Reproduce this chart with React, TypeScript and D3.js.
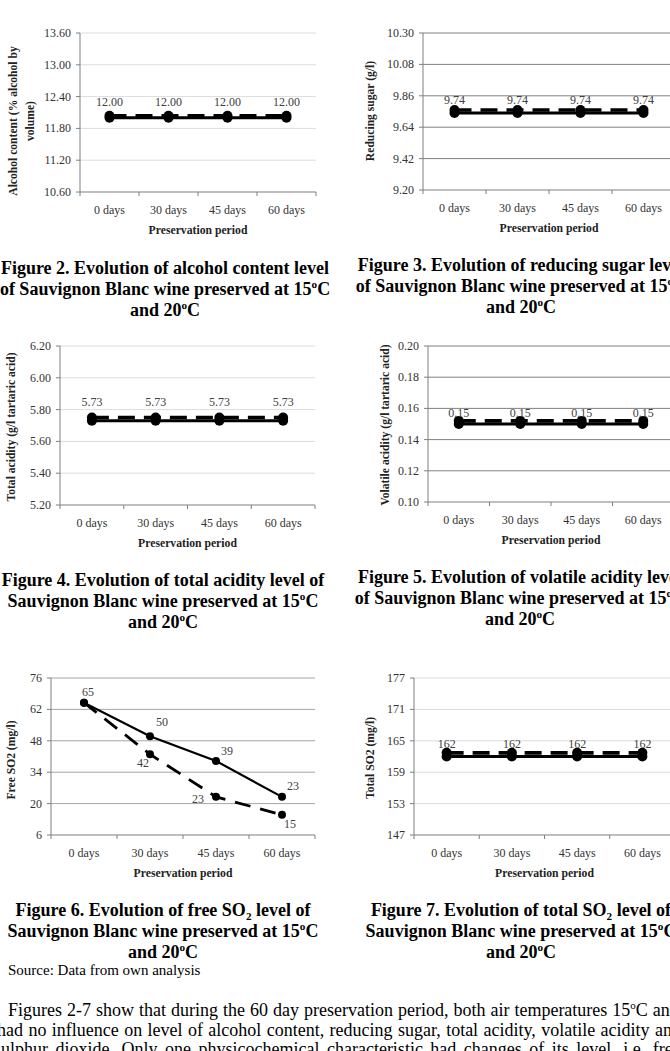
import React from 'react';
import * as d3 from 'd3';

const periods = ['0 days', '30 days', '45 days', '60 days'];

// Figure 2 – alcohol content (% vol)
const alcohol15 = [12.0, 12.0, 12.0, 12.0];
const alcohol20 = [12.04, 12.04, 12.04, 12.04];
const alcoholTicks = [10.6, 11.2, 11.8, 12.4, 13.0, 13.6];

// Figure 3 – reducing sugar (g/l)
const sugar15 = [9.74, 9.74, 9.74, 9.74];
const sugar20 = [9.76, 9.76, 9.76, 9.76];
const sugarTicks = [9.2, 9.42, 9.64, 9.86, 10.08, 10.3];

// Figure 4 – total acidity (g/l tartaric acid)
const acidity15 = [5.73, 5.73, 5.73, 5.73];
const acidity20 = [5.75, 5.75, 5.75, 5.75];
const acidityTicks = [5.2, 5.4, 5.6, 5.8, 6.0, 6.2];

// Figure 5 – volatile acidity (g/l tartaric acid)
const volatile15 = [0.15, 0.15, 0.15, 0.15];
const volatile20 = [0.152, 0.152, 0.152, 0.152];
const volatileTicks = [0.1, 0.12, 0.14, 0.16, 0.18, 0.2];

// Figure 6 – free SO2 (mg/l)
const freeSO2_15 = [65, 50, 39, 23];
const freeSO2_20 = [65, 42, 23, 15];
const freeSO2Ticks = [6, 20, 34, 48, 62, 76];

// Figure 7 – total SO2 (mg/l)
const totalSO2_15 = [162, 162, 162, 162];
const totalSO2_20 = [162.7, 162.7, 162.7, 162.7];
const totalSO2Ticks = [147, 153, 159, 165, 171, 177];

const SERIF = "'Liberation Serif', 'Times New Roman', serif";

type Panel = {
  left: number; top: number; width: number; height: number;
  ticks: number[]; fmt: string;
  solid: number[]; dashed: number[];
  grid: string;
  yTitle: string[]; yTitleX: number[]; yTitleCy: number;
  title: string[]; titleX: number; titleY: number;
  labelDy: number; r: number; lw: number; dash: string;
  solidOffsets?: [number, number][];
  dashedOffsets?: ([number, number] | null)[];
};

const panels: Panel[] = [
  {
    left: 80, top: 33, width: 236, height: 159,
    ticks: alcoholTicks, fmt: '.2f', solid: alcohol15, dashed: alcohol20,
    grid: '#dcdcdc',
    yTitle: ['Alcohol content (% alcohol by', 'volume)'], yTitleX: [13, 30], yTitleCy: 121,
    title: ['Figure 2. Evolution of alcohol content level', 'of Sauvignon Blanc wine preserved at 15^oC', 'and 20^oC'],
    titleX: 165, titleY: 274, labelDy: -16, r: 5, lw: 3, dash: '17,9',
  },
  {
    left: 423, top: 33, width: 252, height: 157,
    ticks: sugarTicks, fmt: '.2f', solid: sugar15, dashed: sugar20,
    grid: '#808080',
    yTitle: ['Reducing sugar (g/l)'], yTitleX: [370], yTitleCy: 111,
    title: ['Figure 3. Evolution of reducing sugar level', 'of Sauvignon Blanc wine preserved at 15^oC', 'and 20^oC'],
    titleX: 521, titleY: 271, labelDy: -13, r: 5, lw: 3, dash: '17,9',
  },
  {
    left: 60, top: 346, width: 255, height: 159,
    ticks: acidityTicks, fmt: '.2f', solid: acidity15, dashed: acidity20,
    grid: '#dcdcdc',
    yTitle: ['Total acidity (g/l tartaric acid)'], yTitleX: [11], yTitleCy: 427,
    title: ['Figure 4. Evolution of total acidity level of', 'Sauvignon Blanc wine preserved at 15^oC', 'and 20^oC'],
    titleX: 163, titleY: 586, labelDy: -19, r: 5, lw: 3, dash: '17,9',
  },
  {
    left: 428, top: 346, width: 246, height: 156,
    ticks: volatileTicks, fmt: '.2f', solid: volatile15, dashed: volatile20,
    grid: '#808080',
    yTitle: ['Volatile acidity (g/l tartaric acid)'], yTitleX: [385], yTitleCy: 425,
    title: ['Figure 5. Evolution of volatile acidity level', 'of Sauvignon Blanc wine preserved at 15^oC', 'and 20^oC'],
    titleX: 520, titleY: 583, labelDy: -11, r: 5, lw: 3, dash: '17,9',
  },
  {
    left: 51, top: 678, width: 264, height: 157,
    ticks: freeSO2Ticks, fmt: 'd', solid: freeSO2_15, dashed: freeSO2_20,
    grid: '#a6a6a6',
    yTitle: ['Free SO2 (mg/l)'], yTitleX: [11], yTitleCy: 760,
    title: ['Figure 6. Evolution of free SO_2 level of', 'Sauvignon Blanc wine preserved at 15^oC', 'and 20^oC'],
    titleX: 163, titleY: 916, labelDy: 0, r: 4, lw: 2.2, dash: '16,10',
    solidOffsets: [[4, -11], [12, -14], [11, -10], [11, -11]],
    dashedOffsets: [null, [-7, 9], [-18, 2], [8, 9]],
  },
  {
    left: 414, top: 678, width: 261, height: 157,
    ticks: totalSO2Ticks, fmt: 'd', solid: totalSO2_15, dashed: totalSO2_20,
    grid: '#dcdcdc',
    yTitle: ['Total SO2 (mg/l)'], yTitleX: [370], yTitleCy: 758,
    title: ['Figure 7. Evolution of total SO_2 level of', 'Sauvignon Blanc wine preserved at 15^oC', 'and 20^oC'],
    titleX: 521, titleY: 916, labelDy: -12.5, r: 5, lw: 3, dash: '17,9',
  },
];

// "^o" = raised o (degree sign), "_2" = subscript 2
function RichLine({ text, x, y, size }: { text: string; x: number; y: number; size: number }) {
  const parts = text.split(/(\^o|_2)/).filter(s => s.length);
  const small = size * 0.62;
  let shift = 0;
  return (
    <text x={x} y={y} textAnchor="middle" fontFamily={SERIF} fontWeight="bold" fontSize={size} fill="#000">
      {parts.map((s, i) => {
        if (s === '^o' || s === '_2') {
          const dy = s === '^o' ? -size * 0.4 : size * 0.22;
          shift = dy;
          return <tspan key={i} dy={dy} fontSize={small}>{s[1]}</tspan>;
        }
        const back = -shift;
        shift = 0;
        return <tspan key={i} dy={back}>{s}</tspan>;
      })}
    </text>
  );
}

function Chart({ p }: { p: Panel }) {
  const y = d3.scaleLinear()
    .domain([p.ticks[0], p.ticks[p.ticks.length - 1]])
    .range([p.top + p.height, p.top]);
  const x = d3.scaleBand().domain(periods).range([p.left, p.left + p.width]);
  const cx = (i: number) => (x(periods[i]) as number) + x.bandwidth() / 2;
  const fmt = d3.format(p.fmt);
  const line = d3.line<number>().x((_, i) => cx(i)).y(v => y(v));
  const base = p.top + p.height;
  const boundaries = periods.map(d => x(d) as number).concat([p.left + p.width]);

  return (
    <g fontFamily={SERIF}>
      {/* gridlines */}
      {p.ticks.slice(1).map(t => (
        <line key={t} x1={p.left} x2={p.left + p.width} y1={y(t)} y2={y(t)} stroke={p.grid} strokeWidth={1} />
      ))}
      {/* y axis */}
      <line x1={p.left} x2={p.left} y1={p.top} y2={base} stroke="#7f7f7f" strokeWidth={1} />
      {p.ticks.map(t => (
        <g key={t}>
          <line x1={p.left - 4} x2={p.left} y1={y(t)} y2={y(t)} stroke="#7f7f7f" />
          <text x={p.left - 9} y={y(t) + 4} textAnchor="end" fontSize={12} fill="#333">{fmt(t)}</text>
        </g>
      ))}
      {/* x axis */}
      <line x1={p.left} x2={p.left + p.width} y1={base} y2={base} stroke="#7f7f7f" strokeWidth={1.2} />
      {boundaries.map((b, i) => (
        <line key={i} x1={b} x2={b} y1={base} y2={base + 4} stroke="#7f7f7f" />
      ))}
      {periods.map((d, i) => (
        <text key={d} x={cx(i)} y={base + 22} textAnchor="middle" fontSize={12} fill="#333">{d}</text>
      ))}
      <text x={p.left + p.width / 2} y={base + 42} textAnchor="middle"
        fontSize={11.7} fontWeight="bold" fill="#222">Preservation period</text>
      {/* y title */}
      {p.yTitle.map((t, i) => (
        <text key={i} transform={`translate(${p.yTitleX[i]},${p.yTitleCy}) rotate(-90)`} textAnchor="middle"
          dominantBaseline="central" fontSize={11.6} fontWeight="bold" fill="#222">{t}</text>
      ))}
      {/* series */}
      <path d={line(p.solid) || ''} fill="none" stroke="#000" strokeWidth={p.lw} />
      <path d={line(p.dashed) || ''} fill="none" stroke="#000" strokeWidth={p.lw + 0.6} strokeDasharray={p.dash} />
      {p.solid.map((v, i) => <circle key={'s' + i} cx={cx(i)} cy={y(v)} r={p.r} fill="#000" />)}
      {p.dashed.map((v, i) => <circle key={'d' + i} cx={cx(i)} cy={y(v)} r={p.r} fill="#000" />)}
      {/* data labels */}
      {p.solid.map((v, i) => {
        const off = p.solidOffsets ? p.solidOffsets[i] : [0, p.labelDy];
        return (
          <text key={'ls' + i} x={cx(i) + off[0]} y={y(v) + off[1] + 4} textAnchor="middle" fontSize={12} fill="#404040">
            {fmt(v)}
          </text>
        );
      })}
      {p.dashedOffsets && p.dashed.map((v, i) => {
        const off = p.dashedOffsets![i];
        if (!off) return null;
        return (
          <text key={'ld' + i} x={cx(i) + off[0]} y={y(v) + off[1] + 4} textAnchor="middle" fontSize={12} fill="#404040">
            {fmt(v)}
          </text>
        );
      })}
      {/* caption */}
      {p.title.map((t, i) => (
        <RichLine key={i} text={t} x={p.titleX} y={p.titleY + i * 21} size={18} />
      ))}
    </g>
  );
}

// justified body text, spacing widened per line
const paragraph = [
  { x: 8, ws: 0.5, text: 'Figures 2-7 show that during the 60 day preservation period, both air temperatures 15^oC and' },
  { x: -3, ws: 0.9, text: 'had no influence on level of alcohol content, reducing sugar, total acidity, volatile acidity and' },
  { x: -6, ws: 3, text: 'sulphur dioxide. Only one physicochemical characteristic had changes of its level, i.e. free' },
];

function Para({ x, y, ws, text }: { x: number; y: number; ws: number; text: string }) {
  const parts = text.split(/(\^o)/).filter(s => s.length);
  return (
    <text x={x} y={y} fontFamily={SERIF} fontSize={18} fill="#000" wordSpacing={ws}>
      {parts.map((s, i) => s === '^o'
        ? <tspan key={i} dy={-7} fontSize={11}>o</tspan>
        : <tspan key={i} dy={i > 0 ? 7 : 0}>{s}</tspan>)}
    </text>
  );
}

export default function App() {
  return (
    <svg width={670} height={1051} style={{ position: 'absolute', left: 0, top: 0, background: '#fff' }}>
      <rect width={670} height={1051} fill="#fff" />
      {panels.map((p, i) => <Chart key={i} p={p} />)}
      <text x={8} y={975} fontFamily={SERIF} fontSize={15} fill="#000">Source: Data from own analysis</text>
      {paragraph.map((l, i) => <Para key={i} x={l.x} y={1016 + i * 19.5} ws={l.ws} text={l.text} />)}
    </svg>
  );
}
